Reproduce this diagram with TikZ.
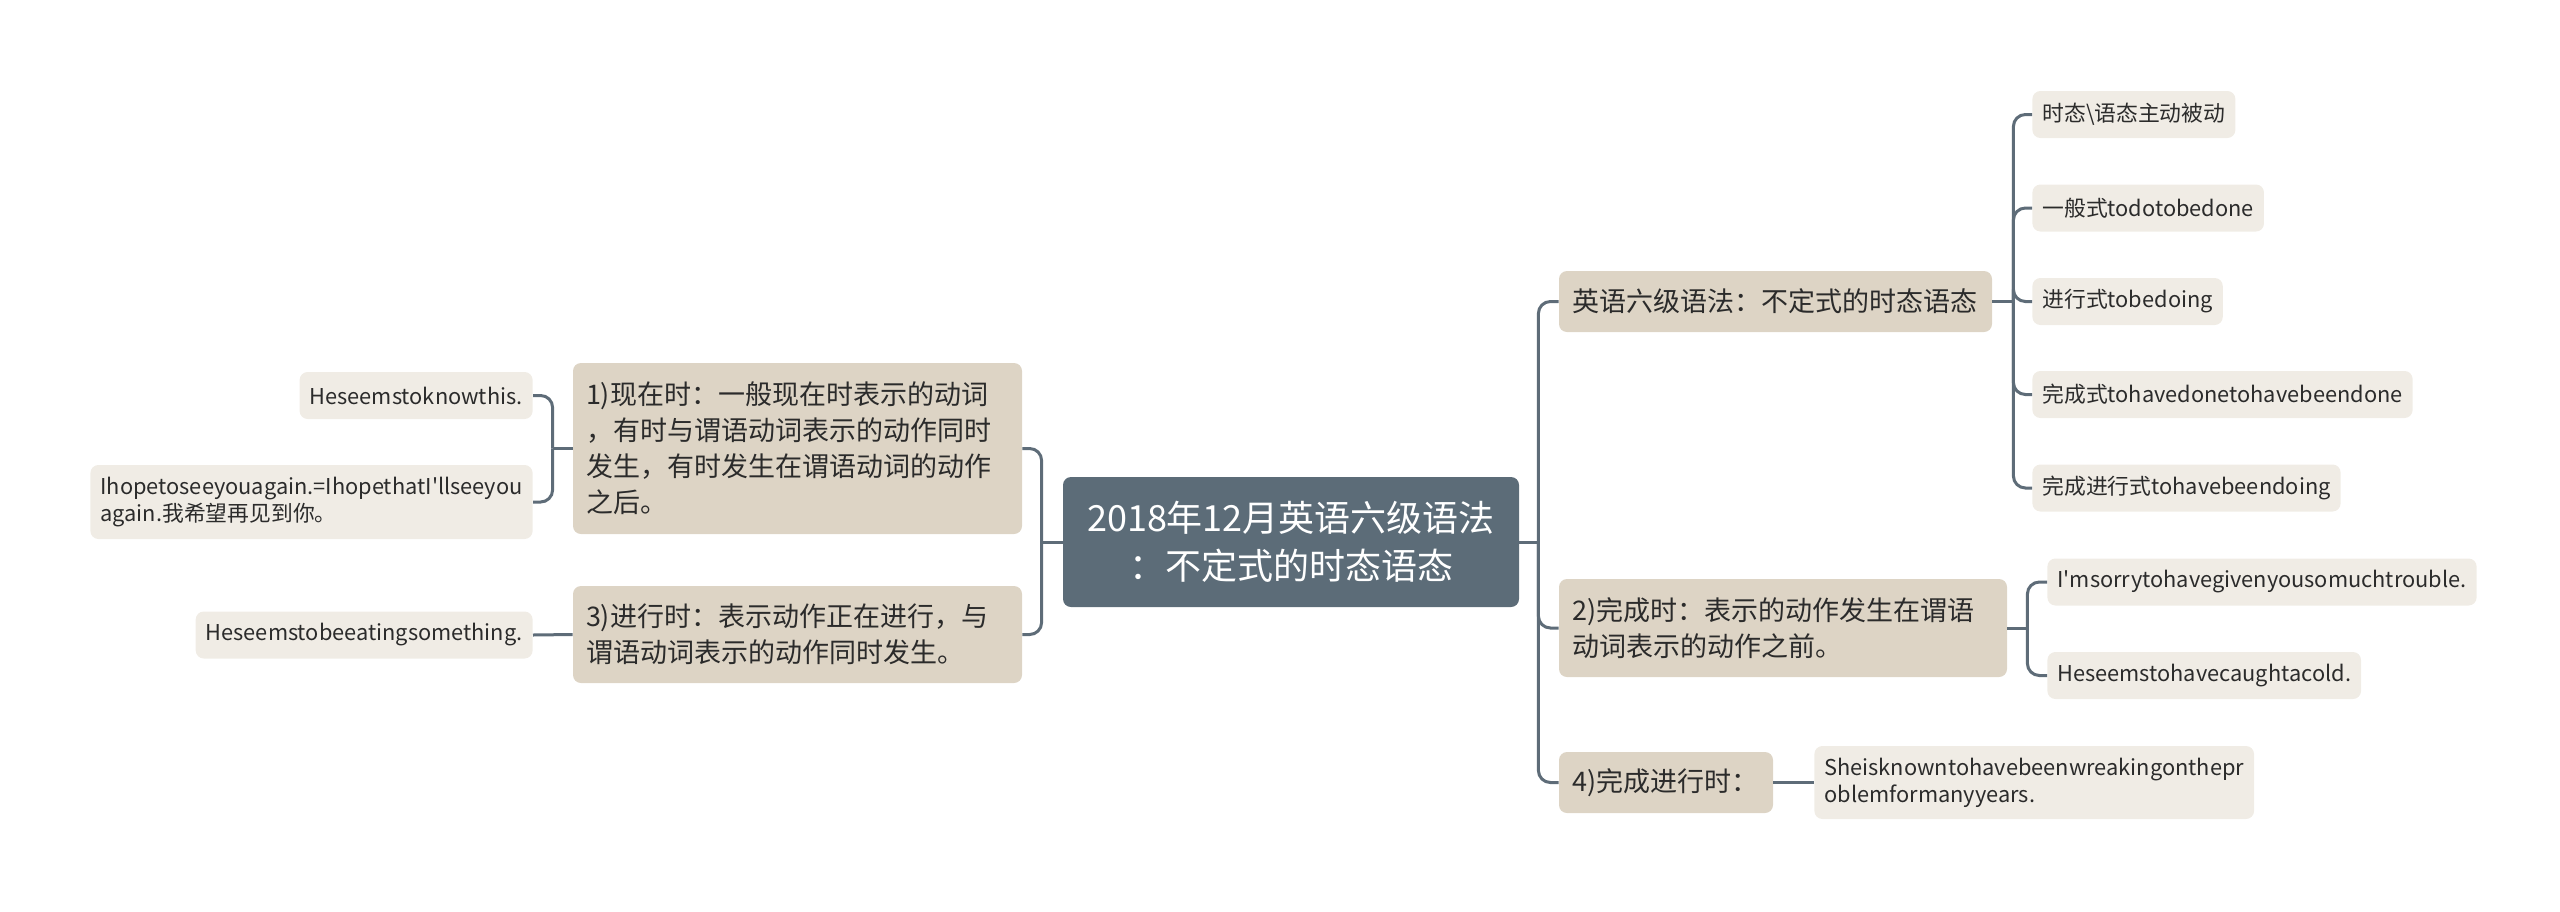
\documentclass[tikz,border=0pt]{standalone}
\usepackage{fontspec}
\usepackage{tikz}
\usetikzlibrary{calc}
\newfontfamily\cnfont{Noto Sans CJK SC}
\definecolor{rootfill}{RGB}{92,108,120}
\definecolor{topicfill}{RGB}{221,212,197}
\definecolor{leaffill}{RGB}{240,236,229}
\definecolor{linkcol}{RGB}{94,108,120}
\definecolor{inktext}{RGB}{43,43,43}

\begin{document}
\begin{tikzpicture}[x=0.5pt, y=-0.5pt,
    rootbox/.style={fill=rootfill, text=white, rounded corners=4pt, align=center,
        font=\cnfont\fontsize{18}{24}\selectfont, inner xsep=4pt, inner ysep=0pt,
        text width=220pt, minimum height=65pt},
    topicbox/.style={fill=topicfill, text=inktext, rounded corners=4pt, align=left,
        font=\cnfont\fontsize{13.5}{18}\selectfont, inner xsep=6.5pt, inner ysep=0pt},
    leafbox/.style={fill=leaffill, text=inktext, rounded corners=4pt, align=left,
        font=\cnfont\fontsize{10.9}{13.6}\selectfont, inner xsep=5pt, inner ysep=0pt,
        minimum height=23.5pt},
    link/.style={draw=linkcol, line width=1.5pt, rounded corners=6pt}]

    % 画布大小与原图一致
    \useasboundingbox (0,0) rectangle (2560,911);

    % --- 宏：从分叉点画到子节点 ---
    \newcommand{\branch}[2]{\draw[link] (#1) |- (#2);}

    % --- 中心主题 ---
    \node[rootbox] (root) at (1291,542) {2018年12月英语六级语法\\：不定式的时态语态};

    % --- 左侧分支 ---
    \node[topicbox, text width=211.5pt, minimum height=85.5pt] (t1) at (797.5,448.5)
        {1)现在时：一般现在时表示的动词\\，有时与谓语动词表示的动作同时\\发生，有时发生在谓语动词的动作\\之后。};
    \node[topicbox, text width=211.5pt, minimum height=48.5pt] (t3) at (797.5,634.5)
        {3)进行时：表示动作正在进行，与\\谓语动词表示的动作同时发生。};

    \node[leafbox, anchor=east] (la1) at (533,395.5) {Heseemstoknowthis.};
    \node[leafbox, anchor=east, minimum height=37pt] (la2) at (533,502)
        {Ihopetoseeyouagain.=IhopethatI'llseeyou\\again.我希望再见到你。};
    \node[leafbox, anchor=east] (lb1) at (533,635) {Heseemstobeeatingsomething.};

    % --- 右侧分支 ---
    \node[topicbox, text width=203.5pt, minimum height=30.5pt] (r1) at (1775.5,301.5)
        {英语六级语法：不定式的时态语态};
    \node[topicbox, text width=211pt, minimum height=49pt] (r2) at (1783,628)
        {2)完成时：表示的动作发生在谓语\\动词表示的动作之前。};
    \node[topicbox, text width=94pt, minimum height=30.5pt] (r3) at (1666,782.5)
        {4)完成进行时：};

    \node[leafbox, anchor=west] (ra1) at (2032,114.5) {时态\textbackslash 语态主动被动};
    \node[leafbox, anchor=west] (ra2) at (2032,208) {一般式todotobedone};
    \node[leafbox, anchor=west] (ra3) at (2032,301.5) {进行式tobedoing};
    \node[leafbox, anchor=west] (ra4) at (2032,394.5) {完成式tohavedonetohavebeendone};
    \node[leafbox, anchor=west] (ra5) at (2032,488) {完成进行式tohavebeendoing};
    \node[leafbox, anchor=west] (rb1) at (2047,582) {I'msorrytohavegivenyousomuchtrouble.};
    \node[leafbox, anchor=west] (rb2) at (2047,675.5) {Heseemstohavecaughtacold.};
    \node[leafbox, anchor=west, minimum height=36.5pt] (rc1) at (1814,782.5)
        {Sheisknowntohavebeenwreakingonthepr\\oblemformanyyears.};

    % --- 分叉点 ---
    \coordinate (lj) at ([xshift=-10.5pt]root.west);
    \coordinate (t1j) at ([xshift=-10pt]t1.west);
    \coordinate (rj) at ([xshift=9.5pt]root.east);
    \coordinate (r1j) at ([xshift=10.5pt]r1.east);
    \coordinate (r2j) at ([xshift=10pt]r2.east);

    % --- 连线 ---
    \draw[link] (root.west) -- (lj);
    \branch{lj}{t1.east}
    \branch{lj}{t3.east}
    \draw[link] (t1.west) -- (t1j);
    \branch{t1j}{la1.east}
    \branch{t1j}{la2.east}
    \draw[link] (t3.west) -- (lb1.east);

    \draw[link] (root.east) -- (rj);
    \foreach \k in {r1,r2,r3}
        \branch{rj}{\k.west}
    \draw[link] (r1.east) -- (r1j);
    \foreach \k in {1,...,5}
        \branch{r1j}{ra\k.west}
    \draw[link] (r2.east) -- (r2j);
    \branch{r2j}{rb1.west}
    \branch{r2j}{rb2.west}
    \draw[link] (r3.east) -- (rc1.west);

\end{tikzpicture}
\end{document}
